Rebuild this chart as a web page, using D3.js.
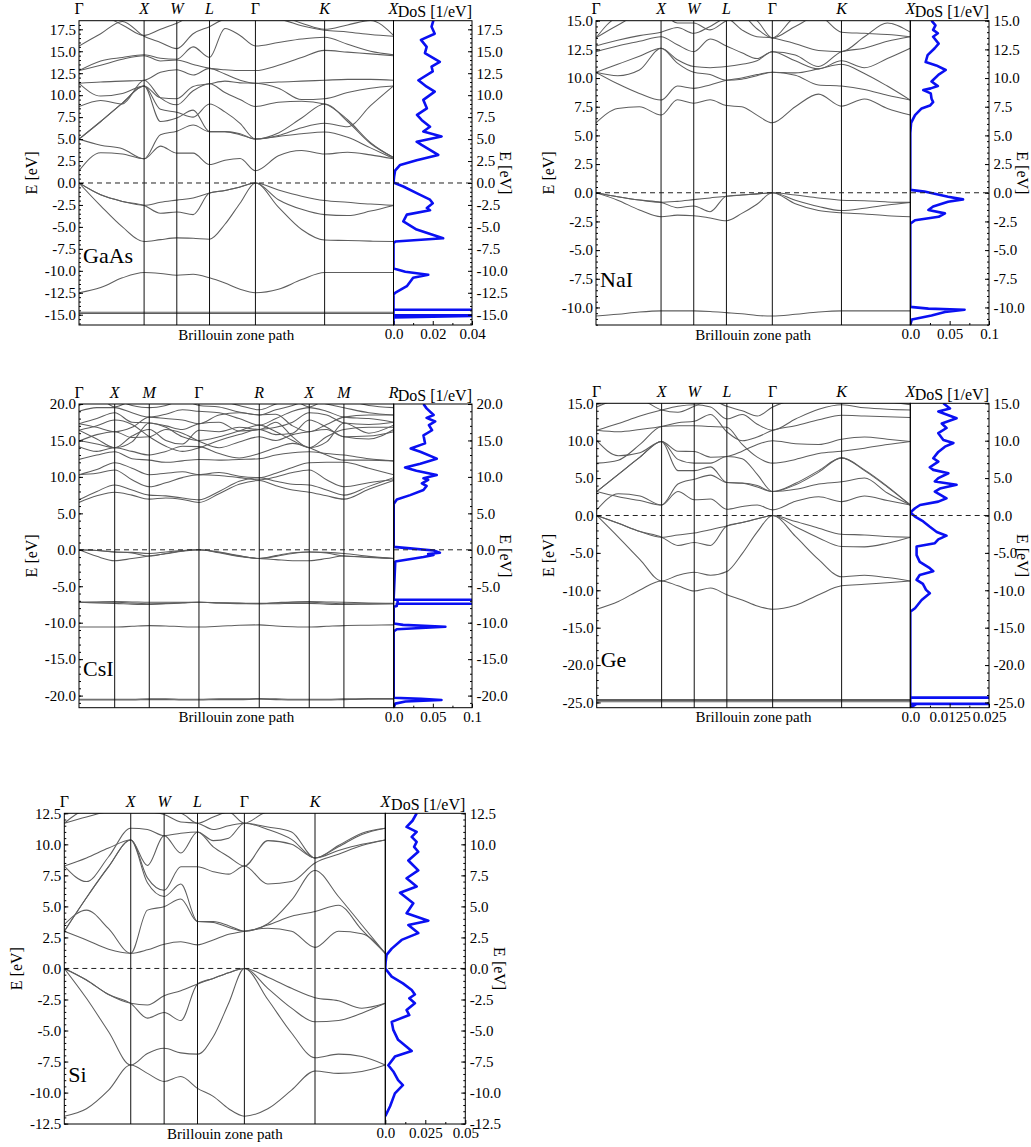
<!DOCTYPE html>
<html><head><meta charset="utf-8">
<script src="https://cdn.jsdelivr.net/npm/d3@7"></script>
<style>
body{margin:0;background:#fff}
text{font-family:"Liberation Serif","Times New Roman",serif;fill:#000}
</style></head>
<body><svg id="c" width="1031" height="1147"></svg>
<script>
// ---------- k-path grids ----------
const fccK = [0, .069, .138, .207, .259, .311, .363, .415, .464, .512, .561, .634, .708, .781, .854, .927, 1];
const fccTicks = [0, .207, .311, .415, .561, .781, 1];
const fccLabels = ['Γ','X','W','L','Γ','K','X'];
const scK = [0, .0567, .1134, .1684, .2233, .2759, .3286, .3812, .4451, .5089, .5728, .6257, .6787, .7316, .7867, .8418, .9209, 1];
const scTicks = [0, .1134, .2233, .3812, .5728, .7316, .8418, 1];
const scLabels = ['Γ','X','M','Γ','R','X','M','R'];

// ---------- GaAs ----------
const gaasBands = [
 [-14.72,-14.72,-14.72,-14.72,-14.72,-14.72,-14.72,-14.72,-14.72,-14.72,-14.72,-14.72,-14.72,-14.72,-14.72,-14.72,-14.72],
 [-14.86,-14.86,-14.86,-14.86,-14.86,-14.86,-14.86,-14.86,-14.86,-14.86,-14.86,-14.86,-14.86,-14.86,-14.86,-14.86,-14.86],
 [-12.5,-11.9,-10.8,-10.2,-10.3,-10.5,-10.4,-10.8,-11.4,-12.1,-12.5,-12.1,-11.0,-10.2,-10.2,-10.2,-10.2],
 [0,-2.6,-5.0,-6.67,-6.45,-6.25,-6.3,-6.4,-4.7,-2.3,0,-2.75,-5.3,-6.5,-6.55,-6.62,-6.67],
 [0,-1.35,-2.1,-2.55,-3.45,-3.3,-3.6,-1.15,-0.85,-0.45,0,-1.9,-3.0,-3.6,-3.7,-3.2,-2.55],
 [0,-1.35,-2.1,-2.55,-2.2,-1.95,-1.7,-1.15,-0.85,-0.45,0,-0.8,-1.5,-2.0,-2.2,-2.4,-2.55],
 [1.4,3.45,3.3,2.75,4.2,3.4,3.4,2.1,2.6,2.8,1.4,3.1,3.7,3.3,3.5,3.2,2.75],
 [5.0,4.3,3.9,2.75,5.5,5.9,6.6,5.85,5.85,5.5,5.0,5.3,5.6,5.8,5.2,4.0,2.8],
 [5.0,7.0,9.1,11.05,7.0,7.4,8.3,5.85,5.85,5.6,5.0,5.4,6.3,6.8,6.4,8.8,11.05],
 [5.0,7.0,9.1,11.05,8.4,8.05,7.5,9.0,8.1,6.8,5.0,5.7,7.4,9.0,7.0,4.5,2.9],
 [8.7,9.4,9.0,11.7,9.7,8.9,10.5,11.3,10.3,9.5,8.7,9.2,9.3,9.0,7.2,4.6,2.9],
 [11.35,9.9,10.2,11.05,9.7,9.6,11.0,11.3,11.6,11.4,11.35,10.8,9.5,9.6,10.3,10.8,11.05],
 [11.35,11.5,11.6,11.7,12.6,12.9,12.3,13.05,12.4,11.7,11.35,11.5,11.6,11.7,11.8,11.8,11.7],
 [12.8,13.4,14.1,14.5,13.9,14.0,13.5,13.05,12.9,12.8,12.8,13.4,14.3,15.1,14.9,14.7,14.5],
 [12.8,13.9,14.3,14.6,14.2,14.1,15.5,14.3,17.6,16.8,15.6,16.0,16.4,16.6,15.8,15.0,14.6],
 [15.6,17.0,18.4,16.7,16.0,15.3,17.0,17.8,18.6,18.6,18.6,18.6,17.9,17.4,17.2,16.9,16.7],
 [19.0,19.0,18.0,16.8,17.5,18.2,19.0,19.0,19.0,19.0,19.0,19.0,18.2,17.5,18.0,18.5,16.8]
];
const gaasDos = [[18.5,.0203],[17.8,.0194],[17.0,.021],[16.3,.014],[15.5,.0169],[14.8,.016],[13.8,.0236],[13.25,.0194],[12.7,.020],[11.7,.0127],[10.97,.0169],[10.4,.021],[9.46,.0152],[8.5,.017],[7.75,.012],[7.18,.0143],[6.4,.0186],[5.86,.0152],[5.3,.0245],[4.7,.0118],[4.34,.0143],[3.2,.0228],[2.6,.0118],[2.06,.0034],[1.4,.0008],[0.7,.0003],[0.05,0],[-0.4,.005],[-1.16,.0118],[-1.9,.0186],[-2.3,.020],[-2.85,.017],[-3.1,.0186],[-3.6,.0068],[-4.36,.005],[-5.3,.0118],[-6.3,.0253],[-6.67,.001],[-6.85,0],[-9.7,0],[-9.8,.001],[-10.1,.006],[-10.45,.0177],[-10.8,.010],[-11.75,.0068],[-12.5,.0008],[-12.7,0],[-14.44,0],[-14.44,.5],[-14.44,0],[-15.06,0],[-15.06,.5],[-15.06,.06],[-15.3,0],[-16.2,0]];
const gaasETicks = [-15,-12.5,-10,-7.5,-5,-2.5,0,2.5,5,7.5,10,12.5,15,17.5];
const gaasDosTicks = [0,0.02,0.04];
const gaasDosLabels = ['0.0','0.02','0.04'];

// ---------- NaI ----------
const naiBands = [
 [-10.75,-10.6,-10.4,-10.3,-10.3,-10.3,-10.35,-10.45,-10.55,-10.7,-10.75,-10.6,-10.4,-10.3,-10.3,-10.3,-10.3],
 [0,-0.35,-0.64,-0.84,-0.75,-0.6,-0.45,-0.3,-0.2,-0.1,0,-0.2,-0.45,-0.65,-0.7,-0.8,-0.84],
 [0,-0.35,-0.64,-0.84,-1.3,-1.15,-1.65,-0.3,-0.2,-0.1,0,-0.65,-1.2,-1.55,-1.35,-1.07,-0.84],
 [0,-0.65,-1.5,-2.09,-1.95,-2.0,-2.2,-2.44,-1.8,-1.0,0,-0.95,-1.55,-1.75,-1.85,-2.0,-2.09],
 [6.1,7.35,7.5,6.77,8.1,7.8,8.1,7.6,7.5,6.77,6.1,7.5,8.6,7.55,8.17,7.35,6.77],
 [10.5,9.5,8.66,8.08,9.3,9.1,9.4,9.8,10.0,10.3,10.5,10.25,9.4,9.3,9.0,8.5,8.08],
 [10.5,10.2,10.7,12.6,11.3,10.5,10.3,9.8,9.9,10.2,10.5,10.45,10.8,11.2,10.4,9.3,8.08],
 [10.5,11.2,11.9,12.6,11.6,11.0,10.9,11.0,11.2,11.5,12.3,11.5,10.8,11.5,10.9,11.7,12.6],
 [12.3,12.8,13.2,13.6,12.9,12.3,13.4,12.8,12.2,11.7,12.3,12.0,11.0,12.3,12.6,13.2,13.6],
 [12.8,13.3,13.7,14.0,14.4,13.9,14.5,15.2,14.2,13.6,13.5,13.0,12.4,12.3,13.6,14.8,14.0],
 [13.5,15.3,15.6,15.6,14.8,14.8,14.2,15.0,15.4,14.3,13.5,14.5,15.4,14.0,13.9,13.8,13.6],
 [13.5,14.6,15.5,15.6,15.6,15.5,15.4,15.2,15.5,15.0,13.5,15.3,15.6,15.5,15.6,15.6,15.6]
];
const naiDos = [[15.0,.027],[14.6,.032],[14.2,.029],[13.9,.035],[13.6,.029],[13.0,.036],[12.6,.031],[12.0,.022],[11.4,.0195],[11.1,.033],[10.7,.045],[10.3,.036],[9.7,.027],[9.3,.035],[9.1,.026],[8.95,.0165],[8.66,.026],[8.2,.027],[7.9,.029],[7.6,.025],[7.35,.0144],[6.77,.006],[6.1,.001],[5.2,0],[0.25,0],[0.1,.018],[-0.35,.048],[-0.58,.067],[-0.78,.048],[-1.2,.029],[-1.5,.023],[-1.8,.044],[-2.1,.036],[-2.4,.006],[-2.7,0],[-9.95,0],[-10.1,.023],[-10.2,.069],[-10.4,.044],[-10.7,.027],[-11.05,.002],[-11.5,0]];
const naiETicks = [-10,-7.5,-5,-2.5,0,2.5,5,7.5,10,12.5,15];
const naiDosTicks = [0,0.05,0.1];
const naiDosLabels = ['0.0','0.05','0.1'];

// ---------- CsI ----------
const csiBands = [
 [-20.5,-20.5,-20.5,-20.5,-20.45,-20.45,-20.5,-20.5,-20.45,-20.45,-20.4,-20.45,-20.5,-20.5,-20.5,-20.45,-20.4,-20.4],
 [-20.6,-20.6,-20.6,-20.6,-20.55,-20.55,-20.6,-20.6,-20.55,-20.55,-20.5,-20.55,-20.6,-20.6,-20.6,-20.55,-20.5,-20.5],
 [-10.6,-10.6,-10.6,-10.5,-10.4,-10.45,-10.55,-10.6,-10.5,-10.35,-10.3,-10.45,-10.55,-10.6,-10.5,-10.4,-10.35,-10.3],
 [-7.2,-7.15,-7.1,-7.15,-7.2,-7.2,-7.2,-7.2,-7.25,-7.3,-7.35,-7.25,-7.15,-7.1,-7.15,-7.2,-7.3,-7.35],
 [-7.2,-7.3,-7.35,-7.45,-7.5,-7.4,-7.3,-7.2,-7.3,-7.4,-7.4,-7.4,-7.35,-7.35,-7.45,-7.5,-7.45,-7.4],
 [-7.2,-7.2,-7.2,-7.3,-7.4,-7.35,-7.25,-7.2,-7.3,-7.35,-7.4,-7.3,-7.2,-7.2,-7.3,-7.4,-7.4,-7.4],
 [0,-0.1,-0.3,-0.35,-0.5,-0.3,-0.1,0,-0.3,-0.8,-1.2,-0.8,-0.4,-0.3,-0.35,-0.5,-0.9,-1.2],
 [0,-0.1,-0.3,-0.45,-0.85,-0.5,-0.15,0,-0.35,-0.85,-1.2,-0.9,-0.5,-0.3,-0.45,-0.85,-1.0,-1.2],
 [0,-0.9,-1.5,-1.2,-0.85,-0.55,-0.2,0,-0.4,-0.9,-1.2,-1.35,-1.5,-1.5,-1.2,-0.85,-1.05,-1.2],
 [6.5,7.4,7.9,7.5,6.95,7.1,6.9,6.5,7.7,9.0,9.5,8.8,8.2,7.9,7.4,6.95,8.3,9.5],
 [6.85,8.0,8.9,8.2,7.5,7.4,7.1,6.85,8.0,9.4,9.9,9.4,9.0,8.9,8.2,7.5,8.7,9.9],
 [10.3,10.5,10.95,9.6,8.65,9.2,9.9,10.3,10.2,9.9,9.6,10.0,10.6,10.95,9.6,8.65,9.2,9.6],
 [10.3,11.0,11.95,11.2,10.3,10.5,10.7,10.3,10.6,10.1,9.9,10.5,11.3,11.95,12.0,12.0,11.2,10.3],
 [12.4,13.0,13.45,12.5,12.3,12.0,12.2,12.4,12.3,12.4,12.5,13.0,13.3,13.45,13.2,13.0,12.5,12.2],
 [14.15,13.5,14.0,13.5,13.0,13.5,14.2,14.15,13.2,12.6,13.2,14.0,14.6,14.0,13.0,12.3,12.3,12.2],
 [14.9,15.8,16.2,15.4,15.5,16.5,16.0,14.9,14.0,14.8,15.5,15.0,15.8,16.2,16.5,15.5,15.6,16.2],
 [16.4,15.2,14.0,15.6,16.5,15.0,14.5,16.4,16.2,16.8,16.5,17.5,15.5,14.0,15.5,16.5,16.8,16.8],
 [17.3,18.0,18.8,17.5,17.4,17.0,16.5,17.3,17.5,16.3,16.5,16.8,17.5,18.8,18.5,17.4,17.2,17.5],
 [19.0,19.5,19.5,18.8,18.2,18.6,19.2,19.0,18.8,18.0,17.1,18.0,19.0,19.5,19.0,18.2,18.0,17.5],
 [19.8,20.5,20.5,19.8,19.5,19.8,20.5,19.8,19.6,18.9,18.5,19.2,19.8,20.5,20.0,19.5,18.8,18.5],
 [20.5,21,19.6,20.5,21,20.5,20.5,21,20.5,19.8,19.2,20,20.5,19.6,20.5,20.5,19.8,19.5],
 [15.0,14.5,14.0,14.8,17.4,16.8,15.5,15.0,15.5,16.3,17.1,16.2,15.0,14.0,14.8,17.4,16.0,17.1],
 [16.4,17.0,17.8,17.2,15.5,14.2,13.5,14.0,15.0,15.8,16.5,15.8,16.0,17.8,16.8,15.5,15.2,16.5],
 [17.3,16.8,16.2,16.8,18.2,18.0,17.8,17.3,18.5,18.8,18.5,18.6,17.0,16.2,17.2,18.2,18.5,18.5]
];
const csiDos = [[20.0,.038],[19.4,.042],[18.5,.051],[18.1,.042],[17.6,.053],[17.1,.045],[16.4,.049],[15.7,.038],[14.6,.04],[13.9,.0217],[13.45,.034],[12.5,.055],[11.8,.034],[11.3,.0145],[10.85,.029],[10.25,.055],[9.8,.038],[9.6,.044],[9.1,.036],[8.75,.042],[8.2,.038],[7.5,.021],[6.9,.004],[6.3,0],[0.4,0],[0.2,.021],[-0.1,.051],[-0.4,.059],[-0.58,.044],[-0.7,.051],[-1.0,.038],[-1.6,.002],[-6.6,0],[-6.86,0],[-6.86,.4],[-6.86,.005],[-7.4,.005],[-7.4,.4],[-7.4,.004],[-7.7,.004],[-7.8,0],[-10.1,0],[-10.3,.012],[-10.55,.066],[-10.9,.004],[-11.2,0],[-20.3,0],[-20.45,.035],[-20.6,.061],[-20.8,.015],[-21.1,.002],[-21.6,0]];
const csiETicks = [-20,-15,-10,-5,0,5,10,15,20];
const csiDosTicks = [0,0.05,0.1];
const csiDosLabels = ['0.0','0.05','0.1'];

// ---------- Ge ----------
const geBands = [
 [-24.6,-24.6,-24.6,-24.6,-24.6,-24.6,-24.6,-24.6,-24.6,-24.6,-24.6,-24.6,-24.6,-24.6,-24.6,-24.6,-24.6],
 [-24.75,-24.75,-24.75,-24.75,-24.75,-24.75,-24.75,-24.75,-24.75,-24.75,-24.75,-24.75,-24.75,-24.75,-24.75,-24.75,-24.75],
 [-24.9,-24.9,-24.9,-24.9,-24.9,-24.9,-24.9,-24.9,-24.9,-24.9,-24.9,-24.9,-24.9,-24.9,-24.9,-24.9,-24.9],
 [-12.53,-11.5,-9.95,-8.75,-9.4,-10.1,-9.7,-10.6,-11.3,-12.1,-12.53,-12.0,-10.6,-9.4,-9.2,-9.0,-8.75],
 [0,-2.9,-5.9,-8.75,-8.0,-7.6,-8.0,-7.5,-5.1,-2.2,0,-2.8,-5.9,-8.2,-8.0,-8.3,-8.75],
 [0,-1.05,-2.15,-2.9,-4.0,-3.6,-4.0,-1.4,-0.95,-0.45,0,-1.5,-3.0,-4.15,-4.2,-3.7,-2.9],
 [0,-1.05,-2.15,-2.9,-2.6,-2.35,-1.9,-1.4,-0.95,-0.45,0,-0.8,-1.7,-2.5,-2.6,-2.8,-2.9],
 [0.75,2.9,2.6,1.4,3.2,2.1,2.2,0.83,1.2,1.4,0.75,1.9,2.5,1.85,2.6,2.0,1.4],
 [3.2,2.5,2.0,1.4,4.2,4.85,5.4,4.4,4.35,4.0,3.2,3.5,4.2,4.5,5.0,3.0,1.4],
 [3.2,5.5,7.8,9.9,6.0,6.0,6.5,4.4,4.3,3.8,3.2,4.3,6.0,7.7,6.0,3.8,1.4],
 [3.2,5.5,7.8,9.9,7.5,7.0,7.0,7.9,7.6,5.5,3.2,4.1,5.8,7.7,6.1,3.9,1.4],
 [7.0,7.4,9.5,11.9,12.0,12.0,11.9,11.8,9.5,7.8,7.0,7.5,8.3,8.6,9.0,9.5,9.9],
 [10.0,8.0,8.4,9.9,8.6,8.55,7.8,7.9,8.6,9.5,10.0,9.6,9.5,10.2,10.5,10.2,9.9],
 [11.4,11.2,11.5,11.9,12.4,12.6,13.5,11.2,10.0,10.5,11.4,12.0,12.8,13.4,13.3,13.2,13.1],
 [11.4,12.3,13.3,14.1,14.6,14.8,14.5,12.9,13.5,12.2,11.4,12.9,14.2,14.8,14.4,14.2,14.1],
 [14.5,15.4,15.4,14.1,13.8,14.6,15.4,14.6,14.0,13.3,14.5,15.4,15.4,15.4,15.4,15.2,14.8]
];
const geDos = [[15.0,.0105],[14.3,.0126],[13.9,.0089],[13.0,.0147],[12.3,.010],[11.7,.0115],[11.0,.0089],[10.1,.0105],[9.7,.0137],[9.2,.011],[8.5,.0089],[7.65,.0073],[7.2,.0089],[6.45,.0062],[6.1,.0073],[5.65,.0121],[5.0,.0089],[4.55,.0078],[4.1,.0147],[3.6,.0094],[3.2,.0078],[2.3,.0115],[1.85,.0089],[1.4,.0031],[0.97,.0015],[0.4,0],[-0.14,.0015],[-0.8,.0041],[-1.5,.0062],[-2.2,.0084],[-2.7,.0115],[-3.2,.0089],[-3.7,.0078],[-4.15,.002],[-5.3,.002],[-6.2,.003],[-7.05,.0062],[-7.45,.0073],[-7.95,.003],[-8.6,.002],[-9.15,.004],[-9.95,.005],[-10.4,.0062],[-11.3,.0036],[-12.4,.0015],[-12.85,0],[-24.35,0],[-24.35,.1],[-24.35,0],[-25.19,0],[-25.19,.1],[-25.19,.002],[-25.7,0]];
const geETicks = [-25,-20,-15,-10,-5,0,5,10,15];
const geDosTicks = [0,0.0125,0.025];
const geDosLabels = ['0.0','0.0125','0.025'];

// ---------- Si ----------
const siBands = [
 [-11.9,-11.3,-9.8,-7.78,-8.45,-9.1,-8.7,-9.66,-10.3,-11.3,-11.9,-11.3,-9.8,-8.26,-8.45,-8.3,-7.78],
 [0,-2.4,-5.1,-7.78,-6.85,-6.43,-6.8,-6.9,-5.5,-2.8,0,-2.5,-5.2,-7.19,-6.9,-7.1,-7.78],
 [0,-0.93,-2.1,-2.81,-4.0,-3.55,-4.2,-1.25,-0.8,-0.35,0,-1.6,-3.2,-4.3,-4.2,-3.6,-2.81],
 [0,-0.93,-2.1,-2.81,-2.95,-2.2,-1.8,-1.25,-0.8,-0.35,0,-0.7,-1.6,-2.35,-2.6,-3.2,-2.81],
 [3.0,2.3,1.55,1.22,1.5,1.95,2.15,1.9,2.3,2.75,3.0,3.24,3.0,1.7,3.0,2.8,1.22],
 [3.55,4.7,3.2,1.22,4.7,4.98,5.6,3.78,3.78,3.45,3.0,3.5,4.2,4.58,5.1,3.1,1.22],
 [3.0,5.7,8.2,10.35,7.3,6.3,8.2,8.2,7.8,7.6,8.25,6.8,7.0,8.5,9.2,9.9,10.35],
 [3.0,5.7,8.2,10.35,6.9,5.8,6.8,3.78,3.7,3.3,3.0,3.6,5.5,7.9,5.8,3.5,1.22],
 [8.25,7.0,9.0,11.3,11.2,10.7,10.9,11.0,9.8,9.0,8.25,10.3,10.0,8.9,9.5,10.0,10.35],
 [8.25,8.9,9.7,10.35,8.3,10.7,9.3,11.0,10.3,10.5,11.7,11.4,11.0,8.9,9.8,10.8,11.3],
 [11.7,12.2,12.6,12.6,12.6,12.4,11.8,11.7,11.2,11.5,11.7,11.2,10.4,8.9,9.9,10.9,11.3],
 [11.7,12.7,12.7,12.6,12.6,12.6,12.5,11.7,12.2,12.6,11.7,12.6,12.6,12.6,12.6,12.6,12.6]
];
const siDos = [[12.5,.0196],[11.9,.017],[11.4,.0133],[11.0,.0196],[10.6,.0165],[10.2,.0196],[9.8,.018],[9.4,.0206],[8.7,.0144],[7.9,.0206],[7.27,.0133],[6.6,.0196],[6.1,.0092],[5.25,.0175],[4.45,.0133],[3.85,.0269],[3.5,.0144],[2.85,.0206],[2.3,.0102],[1.6,.004],[1.1,.0008],[0.5,.0002],[0,0],[-0.66,.004],[-1.2,.011],[-1.73,.0165],[-2.1,.0185],[-2.4,.015],[-2.8,.0185],[-3.35,.0133],[-3.75,.015],[-4.3,.004],[-4.95,.005],[-5.75,.008],[-6.3,.0133],[-6.65,.0165],[-7.1,.006],[-7.8,.0019],[-8.3,.005],[-9.0,.008],[-9.4,.011],[-10.06,.006],[-11.1,.003],[-11.9,0]];
const siETicks = [-12.5,-10,-7.5,-5,-2.5,0,2.5,5,7.5,10,12.5];
const siDosTicks = [0,0.025,0.05];
const siDosLabels = ['0.0','0.025','0.05'];

// ---------- layout (positions only) ----------
const panels = [
 {name:'GaAs', x0:79, x1:393.5, x2:472, y0:20.7, y1:325, eMin:-16.17, eMax:18.48, minor:0.5, nameY:263,
  k:fccK, kt:fccTicks, kl:fccLabels, bands:gaasBands, dos:gaasDos, et:gaasETicks, dt:gaasDosTicks, dl:gaasDosLabels},
 {name:'NaI', x0:596, x1:910.3, x2:989, y0:20.7, y1:325, eMin:-11.53, eMax:15, minor:0.5, nameY:286.5,
  k:fccK, kt:fccTicks, kl:fccLabels, bands:naiBands, dos:naiDos, et:naiETicks, dt:naiDosTicks, dl:naiDosLabels},
 {name:'CsI', x0:79, x1:393.7, x2:472, y0:404, y1:707.7, eMin:-21.66, eMax:20, minor:1, nameY:676,
  k:scK, kt:scTicks, kl:scLabels, bands:csiBands, dos:csiDos, et:csiETicks, dt:csiDosTicks, dl:csiDosLabels},
 {name:'Ge', x0:596.7, x1:910.3, x2:989, y0:403.3, y1:707.7, eMin:-25.7, eMax:15, minor:1, nameY:667,
  k:fccK, kt:fccTicks, kl:fccLabels, bands:geBands, dos:geDos, et:geETicks, dt:geDosTicks, dl:geDosLabels},
 {name:'Si', x0:64.3, x1:385.3, x2:465.3, y0:813.3, y1:1124, eMin:-12.53, eMax:12.5, minor:0.5, nameY:1081.7,
  k:fccK, kt:fccTicks, kl:fccLabels, bands:siBands, dos:siDos, et:siETicks, dt:siDosTicks, dl:siDosLabels}
];

const svg = d3.select('#c');
const defs = svg.append('defs');
const fmt = d => d.toFixed(1);

panels.forEach((P, pi) => {
  const g = svg.append('g');
  const x = d3.scaleLinear().domain([0,1]).range([P.x0, P.x1]);
  const y = d3.scaleLinear().domain([P.eMin, P.eMax]).range([P.y1, P.y0]);
  const xd = d3.scaleLinear().domain([0, P.dt[P.dt.length-1]]).range([P.x1, P.x2]);

  defs.append('clipPath').attr('id','cb'+pi).append('rect')
    .attr('x',P.x0).attr('y',P.y0).attr('width',P.x1-P.x0).attr('height',P.y1-P.y0);
  defs.append('clipPath').attr('id','cd'+pi).append('rect')
    .attr('x',P.x1).attr('y',P.y0).attr('width',P.x2-P.x1).attr('height',P.y1-P.y0);

  // bands
  const line = d3.line().x((d,i)=>x(P.k[i])).y(d=>y(d)).curve(d3.curveMonotoneX);
  g.append('g').attr('clip-path',`url(#cb${pi})`)
    .selectAll('path').data(P.bands).join('path')
    .attr('d', line).attr('fill','none').attr('stroke','#5e5e5e').attr('stroke-width',1.05);

  // high symmetry lines
  g.append('g').selectAll('line').data(P.kt.slice(1,-1)).join('line')
    .attr('x1',d=>x(d)).attr('x2',d=>x(d)).attr('y1',P.y0).attr('y2',P.y1)
    .attr('stroke','#111').attr('stroke-width',1);

  // DoS
  const dline = d3.line().x(d=>xd(d[1])).y(d=>y(d[0]));
  g.append('path').attr('clip-path',`url(#cd${pi})`).datum(P.dos)
    .attr('d', dline).attr('fill','none').attr('stroke','#0a10f2').attr('stroke-width',2.6)
    .attr('stroke-linejoin','round');

  // Fermi level
  g.append('line').attr('x1',P.x0).attr('x2',P.x2).attr('y1',y(0)).attr('y2',y(0))
    .attr('stroke','#222').attr('stroke-width',1).attr('stroke-dasharray','5,4');

  // frames
  g.append('rect').attr('x',P.x0).attr('y',P.y0).attr('width',P.x1-P.x0).attr('height',P.y1-P.y0)
    .attr('fill','none').attr('stroke','#000').attr('stroke-width',1);
  g.append('rect').attr('x',P.x1).attr('y',P.y0).attr('width',P.x2-P.x1).attr('height',P.y1-P.y0)
    .attr('fill','none').attr('stroke','#000').attr('stroke-width',1);

  const minorVals = d3.range(Math.ceil(P.eMin/P.minor)*P.minor, P.eMax+1e-9, P.minor);

  // left axis
  const la = g.append('g').attr('transform',`translate(${P.x0},0)`)
    .call(d3.axisLeft(y).tickValues(P.et).tickSize(-4).tickPadding(3).tickFormat(fmt));
  const lm = g.append('g').attr('transform',`translate(${P.x0},0)`)
    .call(d3.axisLeft(y).tickValues(minorVals).tickSize(-2).tickFormat(''));
  // right axis
  const ra = g.append('g').attr('transform',`translate(${P.x2},0)`)
    .call(d3.axisRight(y).tickValues(P.et).tickSize(-4).tickPadding(4.5).tickFormat(fmt));
  const rm = g.append('g').attr('transform',`translate(${P.x2},0)`)
    .call(d3.axisRight(y).tickValues(minorVals).tickSize(-2).tickFormat(''));
  // bottom DoS axis
  const dmin = [];
  for (let i=0;i<P.dt.length-1;i++) dmin.push((P.dt[i]+P.dt[i+1])/2);
  const ba = g.append('g').attr('transform',`translate(0,${P.y1})`)
    .call(d3.axisBottom(xd).tickValues(P.dt).tickSize(-4).tickPadding(3.7).tickFormat((d,i)=>P.dl[i]));
  const bm = g.append('g').attr('transform',`translate(0,${P.y1})`)
    .call(d3.axisBottom(xd).tickValues(dmin).tickSize(-2).tickFormat(''));
  [la,lm,ra,rm,ba,bm].forEach(a=>{
    a.select('.domain').remove();
    a.attr('font-family',null).attr('font-size',null);
    a.selectAll('line').attr('stroke','#000');
    a.selectAll('text').attr('font-size',15).attr('fill','#000');
  });

  // k labels
  g.append('g').selectAll('text').data(P.kt).join('text')
    .attr('x',d=>x(d)).attr('y',P.y0-6.5).attr('text-anchor','middle').attr('font-size',16)
    .attr('font-style',(d,i)=>P.kl[i]==='Γ'?'normal':'italic')
    .text((d,i)=>P.kl[i]);

  // DoS label
  g.append('text').attr('x',P.x2).attr('y',P.y0-3.5).attr('text-anchor','end').attr('font-size',16)
    .text('DoS [1/eV]');

  // E labels
  const ym = (P.y0+P.y1)/2;
  g.append('text').attr('transform',`translate(${P.x0-48},${ym}) rotate(-90)`)
    .attr('text-anchor','middle').attr('dy','0.35em').attr('font-size',16).text('E [eV]');
  g.append('text').attr('transform',`translate(${P.x2+34},${ym}) rotate(90)`)
    .attr('text-anchor','middle').attr('dy','0.35em').attr('font-size',16).text('E [eV]');

  // x-axis title
  g.append('text').attr('x',(P.x0+P.x1)/2).attr('y',P.y1+14.5).attr('text-anchor','middle')
    .attr('font-size',15).text('Brillouin zone path');

  // material label
  g.append('text').attr('x',P.x0+4).attr('y',P.nameY).attr('font-size',22).text(P.name);
});
</script>
</body></html>
